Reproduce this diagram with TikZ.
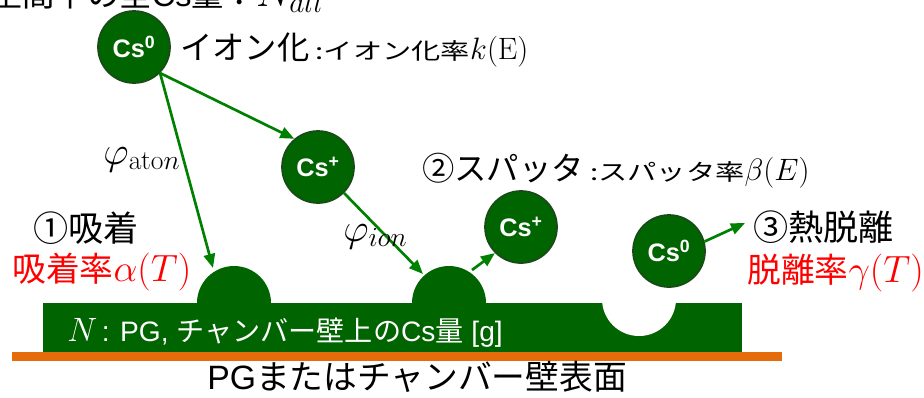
\RequirePackage{fix-cm}
\documentclass[tikz,border=0pt]{standalone}
\usepackage[no-math]{fontspec}
\usepackage{amsmath}
\setmainfont{Noto Sans CJK JP}
\newfontfamily\arial{Liberation Sans}
\newfontfamily\jpwide[FakeStretch=1.3]{Noto Sans CJK JP}
\usetikzlibrary{arrows.meta}
\definecolor{csgreen}{RGB}{0,100,0}
\definecolor{csrim}{RGB}{25,75,25}
\definecolor{csarrow}{RGB}{0,128,0}
\definecolor{surface}{RGB}{228,108,10}
\newcommand\msize[1]{\fontsize{#1}{#1}\selectfont}

\begin{document}
\begin{tikzpicture}[x=0.025cm, y=-0.025cm,
  ball/.style={circle, minimum size=1.8cm, inner sep=0, fill=csgreen, draw=csrim, line width=1.2pt,
    text=white, font=\arial\bfseries\fontsize{18}{20}\selectfont},
  flow/.style={draw=csarrow, line width=1.9pt, -{Triangle[length=10pt,width=8pt]}},
  lbl/.style={inner sep=0, anchor=base west},
  head/.style={lbl, font=\fontsize{23}{27}\selectfont},
  note/.style={lbl, font=\jpwide\fontsize{16}{19}\selectfont},
  rate/.style={lbl, text=red, font=\fontsize{24}{28}\selectfont},
  greek/.style={lbl, font=\msize{28}}]
  \useasboundingbox (0,0) rectangle (924,397);
  \clip (0,0) rectangle (924,397);

  % wall surface and Cs layer on it
  \fill[surface] (12,352) rectangle (782,361);
  \fill[csgreen] (43,303) rectangle (742,352);
  \fill[csgreen] (234,303) circle[radius=37];
  \fill[csgreen] (449,303) circle[radius=37];
  \fill[white] (639,299) circle[radius=37];
  \node[lbl, text=white, font=\fontsize{20}{24}\selectfont] (amount) at (67,341)
    {{\msize{24}$N$}\,{\arial : PG, }チャンバー壁上の{\arial Cs}量{\arial\ [g]}};
  \node[lbl, font=\fontsize{24}{28}\selectfont] (wall) at (207,389) {{\arial PG}またはチャンバー壁表面};

  % Cs particles
  \node[ball] (cs0) at (134,47) {Cs\textsuperscript{0}};
  \node[ball] (csion) at (318,167) {Cs\textsuperscript{+}};
  \node[ball] (cssput) at (521,227) {Cs\textsuperscript{+}};
  \node[ball] (csdes) at (669,251) {Cs\textsuperscript{0}};

  % fluxes
  \coordinate (hitatom) at (213,268);
  \coordinate (hition) at (423,274);
  \coordinate (emit) at (472,270);
  \coordinate (away) at (745,223);
  \draw[flow] (cs0.south east) -- (hitatom);
  \draw[flow] (cs0.south east) -- (csion.130);
  \draw[flow] (csion.south east) -- (hition);
  \draw[flow] (emit) -- (cssput.south west);
  \draw[flow] (csdes.15) -- (away);
  \node[greek] (phiatom) at (103,164) {$\varphi_{\mathrm{ato}n}$};
  \node[greek] (phiion) at (343,241) {$\varphi_{ion}$};

  % processes
  \node[lbl, font=\fontsize{23}{27}\selectfont] (total) at (-10,6) {空間中の全{\arial Cs}量：{\msize{30}$N_{all}$}};
  \node[head] (ionize) at (180,59) {イオン化};
  \node[note] (ionrate) at ([xshift=4pt]ionize.base east) {:イオン化率{\msize{22}$k(\mathrm{E})$}};
  \node[head] (sputter) at (422,180) {②スパッタ};
  \node[note] (sputrate) at ([xshift=4pt]sputter.base east) {:スパッタ率{\msize{22}$\beta(E)$}};
  \node[head, font=\fontsize{25}{29}\selectfont] (adsorb) at (33,241) {①吸着};
  \node[rate] (adsrate) at (12,281) {吸着率{\msize{27}$\alpha(T)$}};
  \node[head, font=\fontsize{25}{29}\selectfont] (desorb) at (753,240) {③熱脱離};
  \node[rate] (desrate) at (747,282) {脱離率{\msize{27}$\gamma(T)$}};
\end{tikzpicture}
\end{document}
